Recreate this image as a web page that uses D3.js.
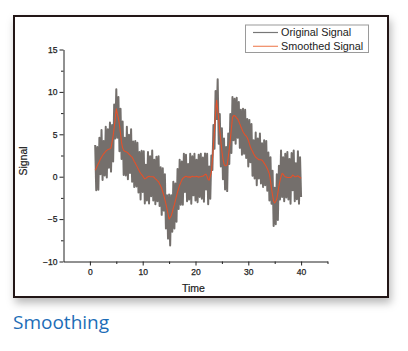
<!DOCTYPE html>
<html><head><meta charset="utf-8">
<script src="https://cdn.jsdelivr.net/npm/d3@7"></script>
<style>
html,body{margin:0;padding:0;background:#fff;}
svg{display:block;}
</style></head>
<body>
<script>
// ---- data ----
const xTicks = [0, 10, 20, 30, 40];
const yTicks = [-10, -5, 0, 5, 10, 15];
const seriesNames = ["Original Signal", "Smoothed Signal"];
// sampled every 0.2 time units from t = 1 to t = 40
const tStart = 1, tStep = 0.2;
const originalSignal = [
 3.75,-1.6,3.5,-1.55,4.6,0.3,5.5,-0.4,4.2,0.15,
 5.9,-0.1,5.6,1.05,6.4,0.6,6.1,1.8,8.5,4.5,
 10.3,4.6,9.4,3.0,8.0,2.1,6.5,0.2,4.6,0.15,
 5.9,-0.3,4.95,0.45,5.6,-0.6,4.15,-1.2,4.2,-1.15,
 4.0,-1.85,2.9,-2.7,3.05,-1.8,3.0,-3.15,1.4,-2.8,
 2.9,-3.15,2.4,-2.3,3.1,-2.8,2.0,-3.25,2.35,-2.9,
 2.4,-3.45,1.1,-4.5,1.0,-4.0,0.3,-6.1,-2.2,-7.3,
 -2.1,-8.1,-2.2,-6.5,-0.6,-6.1,-0.8,-5.3,0.9,-3.8,
 2.0,-3.3,1.8,-3.3,2.7,-1.8,2.6,-2.9,1.5,-2.7,
 2.7,-3.2,2.4,-2.2,2.7,-2.8,2.0,-3.0,2.6,-2.4,
 2.7,-2.6,2.25,-2.95,2.75,-1.5,2.7,-3.25,1.2,-2.6,
 2.5,0.8,6.1,3.3,10.1,6.8,11.5,3.9,7.4,1.2,
 5.7,-0.3,4.5,-1.5,3.5,-1.7,5.1,1.5,7.4,2.8,
 9.4,4.3,9.2,3.9,9.3,4.6,8.8,3.4,7.9,2.6,
 8.0,2.7,7.9,2.2,6.8,1.2,6.7,1.7,6.2,0.1,
 4.3,-0.2,5.2,-1.0,4.5,-0.2,5.1,-0.8,3.95,-1.2,
 4.3,-1.0,4.2,-1.65,2.85,-2.8,2.3,-3.2,0.7,-5.8,
 -1.3,-5.6,0.3,-5.1,1.3,-2.7,3.1,-2.4,2.3,-2.9,
 2.7,-2.45,2.9,-2.7,2.1,-3.2,2.8,-1.6,3.1,-2.9,
 1.6,-2.65,3.0,-3.2,2.3,-2.4
];
const smoothedSignal = [
 0.75,1.0,1.3,1.55,1.8,2.1,2.3,2.5,2.7,2.85,
 3.0,3.1,3.2,3.25,3.3,3.4,4.1,4.8,5.8,6.9,
 8.0,7.4,6.9,6.1,5.1,4.0,3.4,3.1,3.0,2.95,
 2.9,2.8,2.65,2.55,2.4,2.3,2.05,1.8,1.6,1.35,
 1.1,0.85,0.6,0.4,0.25,0.1,-0.1,-0.25,-0.2,-0.1,
 0.0,0.05,0.0,0.0,0.0,0.0,-0.1,-0.25,-0.35,-0.5,
 -0.6,-0.85,-1.1,-1.4,-1.8,-2.2,-2.7,-3.2,-3.8,-4.4,
 -5.0,-4.8,-4.6,-4.2,-3.7,-3.3,-2.8,-2.3,-1.8,-1.4,
 -1.0,-0.7,-0.4,-0.2,-0.1,0.0,0.05,0.0,-0.05,0.0,
 -0.1,0.0,0.05,0.0,0.0,0.0,0.05,0.0,-0.05,0.0,
 0.0,0.05,0.05,0.15,0.25,0.3,0.0,-0.35,-0.4,0.1,
 0.5,2.0,3.7,5.6,7.5,9.0,7.9,6.8,5.4,4.2,
 3.0,2.1,1.5,1.3,1.3,1.4,2.3,3.3,4.4,5.7,
 7.0,7.2,7.2,7.1,6.9,6.8,6.5,6.2,5.9,5.6,
 5.3,5.1,4.9,4.8,4.6,4.3,3.9,3.5,3.2,3.0,
 2.7,2.5,2.3,2.2,2.1,2.0,2.0,2.0,1.95,1.8,
 1.6,1.4,1.2,0.95,0.65,0.3,-0.5,-1.4,-2.2,-2.9,
 -3.1,-2.9,-2.6,-1.9,-1.1,-0.5,0.0,0.4,0.3,0.1,
 0.0,-0.05,-0.1,-0.1,-0.1,-0.1,0.0,0.2,0.1,0.0,
 0.0,0.05,0.1,0.0,-0.1,-0.2
];
const time = originalSignal.map((_, i) => +(tStart + i * tStep).toFixed(2));

const W = 408, H = 351;
const svg = d3.select("body").append("svg").attr("width", W).attr("height", H);

const defs = svg.append("defs");
const f = defs.append("filter").attr("id", "sh").attr("x", "-10%").attr("y", "-10%").attr("width", "130%").attr("height", "130%");
f.append("feDropShadow").attr("dx", 2).attr("dy", 5).attr("stdDeviation", 4).attr("flood-color", "#000").attr("flood-opacity", 0.28);
const bl = defs.append("filter").attr("id", "bl").attr("x", "-5%").attr("y", "-5%").attr("width", "110%").attr("height", "110%");
bl.append("feGaussianBlur").attr("stdDeviation", 0.45);

svg.append("rect").attr("x", 14).attr("y", 16).attr("width", 374).attr("height", 281)
  .attr("fill", "#fff").attr("stroke", "#231815").attr("stroke-width", 2).attr("filter", "url(#sh)");

const x = d3.scaleLinear().domain([-5, 45]).range([63.5, 327.5]);
const y = d3.scaleLinear().domain([-10, 15]).range([261.5, 49.5]);

const g = svg.append("g");
const font = "Arial, 'Liberation Sans', sans-serif";

g.append("g").attr("transform", `translate(0,${y(-10)})`)
  .call(d3.axisBottom(x).tickValues(xTicks).tickSize(4).tickSizeOuter(0).tickPadding(3).tickFormat(d3.format("d")));
g.append("g").attr("transform", `translate(0,${y(-10)})`)
  .call(d3.axisBottom(x).tickValues([5, 15, 25, 35, 45]).tickSize(2.5).tickFormat("").tickSizeOuter(0))
  .select(".domain").remove();
g.append("g").attr("transform", `translate(${x(-5)},0)`)
  .call(d3.axisLeft(y).tickValues(yTicks).tickSize(4).tickSizeOuter(0).tickPadding(2).tickFormat(d3.format("d")));
g.append("g").attr("transform", `translate(${x(-5)},0)`)
  .call(d3.axisLeft(y).tickValues([-7.5, -2.5, 2.5, 7.5, 12.5]).tickSize(2.5).tickFormat("").tickSizeOuter(0))
  .select(".domain").remove();

g.selectAll(".domain").attr("stroke", "#222").attr("stroke-width", 1);
g.selectAll(".tick line").attr("stroke", "#222").attr("stroke-width", 1);
g.selectAll(".tick text").attr("font-family", font).attr("font-size", 8.5).attr("fill", "#222")
  .attr("stroke", "#222").attr("stroke-width", 0.25);

g.append("text").attr("x", x(20) - 2).attr("y", 292).attr("text-anchor", "middle")
  .attr("font-family", font).attr("font-size", 10.5).attr("fill", "#222").attr("stroke", "#222").attr("stroke-width", 0.2).text("Time");
g.append("text").attr("transform", `translate(27,161) rotate(-90)`).attr("text-anchor", "middle")
  .attr("font-family", font).attr("font-size", 10.5).attr("fill", "#222").attr("stroke", "#222").attr("stroke-width", 0.2).text("Signal");

const line = (vals) => d3.line().x((d, i) => x(time[i])).y(d => y(d))(vals);
g.append("path").attr("d", line(originalSignal)).attr("fill", "none")
  .attr("stroke", "#3d3935").attr("stroke-opacity", 0.72).attr("stroke-width", 2.0)
  .attr("stroke-linejoin", "round").attr("filter", "url(#bl)");
g.append("path").attr("d", line(smoothedSignal)).attr("fill", "none")
  .attr("stroke", "#e4512a").attr("stroke-width", 1.1).attr("stroke-linejoin", "round");

const lg = g.append("g");
lg.append("rect").attr("x", 245.5).attr("y", 25).attr("width", 123).attr("height", 27.5)
  .attr("fill", "#fff").attr("stroke", "#9a9a9a").attr("stroke-width", 1);
const colors = ["#777", "#f08a62"];
seriesNames.forEach((n, i) => {
  const yy = 32.5 + i * 13.8;
  lg.append("line").attr("x1", 253).attr("x2", 278).attr("y1", yy).attr("y2", yy)
    .attr("stroke", colors[i]).attr("stroke-width", 1.2);
  lg.append("text").attr("x", 281).attr("y", yy + 3.8).attr("font-family", font)
    .attr("font-size", 10.8).attr("fill", "#222").text(n);
});

svg.append("text").attr("x", 13).attr("y", 329).attr("font-family", "'Open Sans', 'Noto Sans', sans-serif")
  .attr("font-size", 19).attr("fill", "#1c6db7").text("Smoothing");
</script>
</body></html>
